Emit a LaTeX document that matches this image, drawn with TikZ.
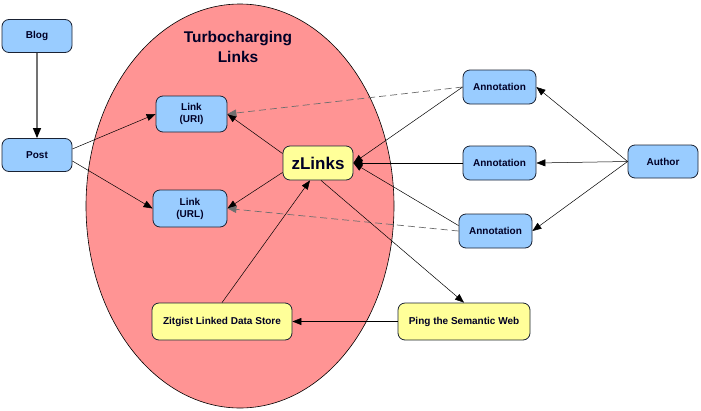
\documentclass[tikz,border=0pt]{standalone}
\usepackage{fontspec}
\setmainfont{Liberation Sans}
\newfontfamily\boxfont{Liberation Sans}
\usetikzlibrary{arrows.meta}
\definecolor{bluefill}{HTML}{99CCFF}
\definecolor{yellowfill}{HTML}{FFFF99}
\definecolor{redfill}{HTML}{FF9494}
\definecolor{edge}{HTML}{1A2233}
\definecolor{dashgray}{HTML}{6E6E6E}
\begin{document}
\begin{tikzpicture}[x=1pt,y=-1pt,
  box/.style={draw=edge,line width=0.8pt,rounded corners=7pt,font=\boxfont\bfseries\fontsize{10}{12}\selectfont,align=center,inner sep=0pt,text=black!85!blue},
  bluebox/.style={box,fill=bluefill},
  yellowbox/.style={box,fill=yellowfill},
  arr/.style={-{Triangle[length=9pt,width=7pt]},line width=0.5pt,black},
  darr/.style={-{Triangle[length=9pt,width=7pt]},line width=0.7pt,dashgray,dash pattern=on 7pt off 4pt}]
\useasboundingbox (0,0) rectangle (701,410);
\fill[white] (0,0) rectangle (701,410);
\draw[fill=redfill,line width=0.6pt] (240,206) ellipse [x radius=154pt,y radius=202pt];
\node[font=\boxfont\bfseries\fontsize{15.5}{20}\selectfont,align=center,text=black!85!blue] (title) at (238,47) {Turbocharging\\Links};
\node[bluebox,minimum width=70pt,minimum height=33pt] (blog) at (37,36) {Blog};
\node[bluebox,minimum width=70pt,minimum height=33pt] (post) at (37,155) {Post};
\node[bluebox,minimum width=71pt,minimum height=36pt] (uri) at (191.5,114) {Link\\(URI)};
\node[bluebox,minimum width=74pt,minimum height=37pt] (url) at (190,208.5) {Link\\(URL)};
\node[yellowbox,minimum width=70pt,minimum height=34pt,font=\boxfont\bfseries\fontsize{17}{19}\selectfont] (z) at (318,163) {zLinks};
\node[bluebox,minimum width=73pt,minimum height=34pt] (a1) at (499.5,87) {Annotation};
\node[bluebox,minimum width=73pt,minimum height=34pt] (a2) at (499.5,163) {Annotation};
\node[bluebox,minimum width=73pt,minimum height=34pt] (a3) at (495.5,231) {Annotation};
\node[bluebox,minimum width=70pt,minimum height=33pt] (author) at (663,161.5) {Author};
\node[yellowbox,minimum width=140pt,minimum height=37pt] (zit) at (222,321.5) {Zitgist Linked Data Store};
\node[yellowbox,minimum width=132pt,minimum height=37pt] (ping) at (464,321.5) {Ping the Semantic Web};
\draw[-{Triangle[length=10pt,width=8pt,color=black]},line width=1.2pt,black!55] (blog) -- (post);
\draw[arr] (post.east) ++(0,-6) coordinate (p1) -- (uri.west);
\draw[arr] (post.east) ++(0,6) coordinate (p2) -- (url.west);
\draw[arr] (z.north west) ++(0,8) coordinate (z1) -- (uri.east);
\draw[arr] (z.south west) ++(0,-8) coordinate (z2) -- (url.east);
\draw[darr] (a1.west) -- (uri.east);
\draw[darr] (a3.west) -- (url.east);
\draw[arr] (a1.west) -- (z.east);
\draw[arr] (a2.west) -- (z.east);
\draw[arr] (a3.north west) ++(0,12) coordinate (a3w) -- (z.east);
\draw[arr] (author.west) -- (a1.east);
\draw[arr] (author.west) -- (a2.east);
\draw[arr] (author.west) -- (a3.east);
\draw[arr] (zit.north) -- ([xshift=-8pt]z.south);
\draw[arr] ([xshift=3pt]z.south) -- (ping.north);
\draw[arr] (ping.west) -- (zit.east);
\end{tikzpicture}
\end{document}
